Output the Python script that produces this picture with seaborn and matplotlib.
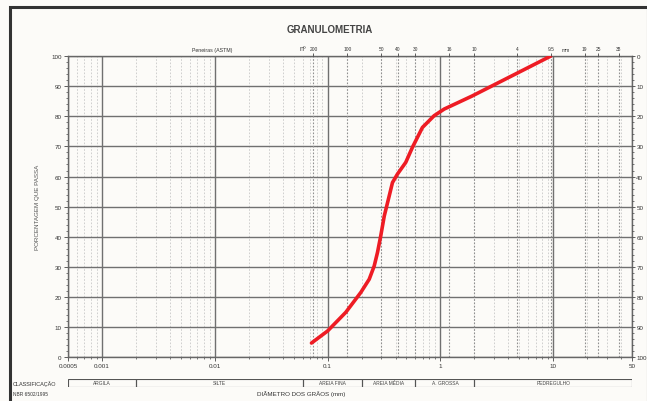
import numpy as np
import pandas as pd
import seaborn as sns
import matplotlib.pyplot as plt
from matplotlib.patches import Rectangle
from matplotlib.ticker import LogLocator, FixedLocator, NullFormatter, MultipleLocator

# curva granulometrica (diametro em mm, % que passa)
diametro = [0.072, 0.1, 0.145, 0.197, 0.234, 0.259, 0.277, 0.296, 0.318, 0.352, 0.376,
            0.416, 0.493, 0.565, 0.693, 0.88, 1.08, 1.9, 4.6, 9.5]
passa = [4.7, 8.7, 14.9, 21.5, 25.9, 30.3, 34.8, 40.3, 46.9, 53.6, 58.0,
         60.8, 64.7, 69.7, 76.3, 80.2, 82.4, 86.7, 94.0, 100]

x_ticks = [0.0005, 0.001, 0.01, 0.1, 1, 10, 50]
x_labels = ["0.0005", "0.001", "0.01", "0.1", "1", "10", "50"]

# peneiras ASTM
peneiras = [0.075, 0.15, 0.3, 0.42, 0.6, 1.19, 2.0, 4.76, 9.5, 19, 25, 38]
peneiras_labels = ["200", "100", "50", "40", "30", "16", "10", "4", "9.5", "19", "25", "38"]

# classificacao NBR 6502/1995
classes = ["ARGILA", "SILTE", "AREIA FINA", "AREIA MÉDIA", "A. GROSSA", "PEDREGULHO"]
limites = [0.0005, 0.002, 0.06, 0.2, 0.6, 2.0, 50]

y_ticks = list(range(0, 101, 10))

sns.set_theme(style="white")
plt.rcParams["font.family"] = ["Liberation Sans", "DejaVu Sans"]

df = pd.DataFrame({"diametro": diametro, "passa": passa})

fig = plt.figure(figsize=(6.47, 4.02), dpi=100)
fig.patch.set_facecolor("#fcfbf8")
fig.patches.append(Rectangle((0.016, -0.01), 0.985, 0.99, transform=fig.transFigure,
                             fill=False, edgecolor="#333333", lw=2.2))

ax = fig.add_axes([0.105, 0.109, 0.872, 0.749])
ax.set_facecolor("#fcfbf8")
ax.set_xscale("log")
ax.set_xlim(0.0005, 50)
ax.set_ylim(0, 100)

# grade
ax.xaxis.set_minor_locator(LogLocator(base=10, subs=np.arange(2, 10)))
ax.xaxis.set_minor_formatter(NullFormatter())
ax.xaxis.set_major_locator(FixedLocator(x_ticks))
ax.set_xticklabels(x_labels)
ax.yaxis.set_major_locator(FixedLocator(y_ticks))
ax.yaxis.set_minor_locator(MultipleLocator(2))
ax.grid(which="minor", axis="x", color="#c8c8c8", ls=(0, (2, 2)), lw=0.6)
ax.grid(which="major", axis="x", color="#707070", lw=1.0)
ax.grid(which="major", axis="y", color="#707070", lw=1.0)
for p in peneiras:
    ax.axvline(p, color="#909090", ls=(0, (1.5, 1.5)), lw=0.8, zorder=1)

sns.lineplot(data=df, x="diametro", y="passa", ax=ax, color="#ee1c24", lw=2.6,
             sort=True, zorder=5)
ax.set_xlabel("")
ax.set_ylabel("PORCENTAGEM QUE PASSA", fontsize=4.5, color="#555555", labelpad=8)

for s in ax.spines.values():
    s.set_color("#666666")
    s.set_linewidth(1.0)
ax.tick_params(axis="both", which="major", labelsize=4.5, length=3, width=0.6,
               color="#444444", labelcolor="#333333", pad=1.5)
ax.tick_params(axis="both", which="minor", length=1.5, width=0.5, color="#444444")
ax.tick_params(axis="x", which="both", top=False)

# eixo direito (% retida)
ax2 = ax.twinx()
ax2.set_ylim(100, 0)
ax2.yaxis.set_major_locator(FixedLocator(y_ticks))
ax2.yaxis.set_minor_locator(MultipleLocator(2))
ax2.tick_params(axis="y", which="major", labelsize=4.5, length=2, width=0.6,
                color="#444444", labelcolor="#333333", pad=1)
ax2.tick_params(axis="y", which="minor", length=1.2, width=0.5, color="#444444")
for s in ax2.spines.values():
    s.set_visible(False)

# eixo superior (peneiras)
ax3 = ax.twiny()
ax3.set_xscale("log")
ax3.set_xlim(0.0005, 50)
ax3.xaxis.set_major_locator(FixedLocator(peneiras))
ax3.xaxis.set_minor_locator(FixedLocator([]))
ax3.set_xticklabels(peneiras_labels)
ax3.tick_params(axis="x", labelsize=3.5, length=2.5, width=0.6, color="#444444",
                labelcolor="#333333", pad=1.5)
for s in ax3.spines.values():
    s.set_visible(False)
ax3.text(9.5 * 1.25, 101.2, "mm", fontsize=3.5, color="#333333", va="bottom", ha="left",
         transform=ax3.transData)
ax3.text(0.065, 101.5, "nº", fontsize=5, color="#333333", va="bottom", ha="right",
         transform=ax3.transData)
ax3.text(0.0095, 101.5, "Peneiras (ASTM)", fontsize=3.8, color="#333333", va="bottom",
         ha="center", transform=ax3.transData)

fig.text(0.51, 0.925, "GRANULOMETRIA", fontsize=7, fontweight="bold", color="#444444",
         ha="center", va="center")

# faixa de classificacao
axc = fig.add_axes([0.105, 0.036, 0.872, 0.019])
axc.set_xscale("log")
axc.set_xlim(0.0005, 50)
axc.set_ylim(0, 1)
axc.barh(y=0.5, width=np.diff(limites), left=limites[:-1], height=1, align="center",
         facecolor="none", edgecolor="#555555", lw=0.8)
for nome, a, b in zip(classes, limites[:-1], limites[1:]):
    axc.text(np.sqrt(a * b), 0.5, nome, fontsize=3.5, color="#444444", ha="center", va="center")
axc.axis("off")

fig.text(0.02, 0.045, "CLASSIFICAÇÃO", fontsize=4, color="#333333", ha="left", va="center")
fig.text(0.02, 0.018, "NBR 6502/1995", fontsize=3.5, color="#333333", ha="left", va="center")
fig.text(0.465, 0.02, "DIÂMETRO DOS GRÃOS (mm)", fontsize=4.5, color="#333333",
         ha="center", va="center")

fig.savefig("out.png", dpi=100, facecolor=fig.get_facecolor())
